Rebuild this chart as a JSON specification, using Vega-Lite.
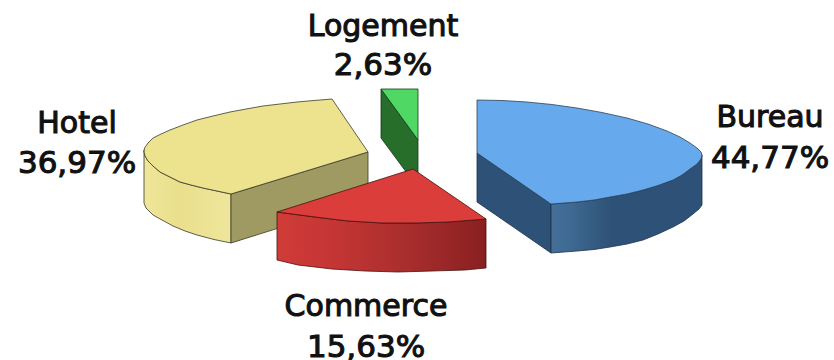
{
  "$schema": "https://vega.github.io/schema/vega-lite/v6.json",
  "width": 834,
  "height": 360,
  "padding": 0,
  "autosize": {"type": "none"},
  "background": "white",
  "config": {"view": {"stroke": null}},
  "datasets": {
    "faces": [
      {"face":"hotel-side","i":0,"x":144,"y":150},{"face":"hotel-side","i":1,"x":145,"y":156},{"face":"hotel-side","i":2,"x":148,"y":161},{"face":"hotel-side","i":3,"x":153,"y":166},{"face":"hotel-side","i":4,"x":160,"y":172},{"face":"hotel-side","i":5,"x":170,"y":177},{"face":"hotel-side","i":6,"x":180,"y":182},{"face":"hotel-side","i":7,"x":191,"y":185},{"face":"hotel-side","i":8,"x":203,"y":188},{"face":"hotel-side","i":9,"x":217,"y":191},{"face":"hotel-side","i":10,"x":231,"y":194},{"face":"hotel-side","i":11,"x":231,"y":243},{"face":"hotel-side","i":12,"x":214,"y":239.5},{"face":"hotel-side","i":13,"x":197,"y":235},{"face":"hotel-side","i":14,"x":185,"y":231},{"face":"hotel-side","i":15,"x":173,"y":226},{"face":"hotel-side","i":16,"x":162,"y":220},{"face":"hotel-side","i":17,"x":153,"y":215},{"face":"hotel-side","i":18,"x":146,"y":208},{"face":"hotel-side","i":19,"x":144,"y":203},{"face":"hotel-side","i":20,"x":144,"y":150},
      {"face":"hotel-cut","i":0,"x":231,"y":194},{"face":"hotel-cut","i":1,"x":368,"y":152},{"face":"hotel-cut","i":2,"x":368,"y":200},{"face":"hotel-cut","i":3,"x":231,"y":243},{"face":"hotel-cut","i":4,"x":231,"y":194},
      {"face":"hotel-top","i":0,"x":332,"y":99},{"face":"hotel-top","i":1,"x":314,"y":100.5},{"face":"hotel-top","i":2,"x":297,"y":102},{"face":"hotel-top","i":3,"x":280,"y":104},{"face":"hotel-top","i":4,"x":263,"y":106},{"face":"hotel-top","i":5,"x":246,"y":109},{"face":"hotel-top","i":6,"x":230,"y":112},{"face":"hotel-top","i":7,"x":213,"y":116},{"face":"hotel-top","i":8,"x":197,"y":120},{"face":"hotel-top","i":9,"x":183,"y":125},{"face":"hotel-top","i":10,"x":170,"y":130},{"face":"hotel-top","i":11,"x":161,"y":134},{"face":"hotel-top","i":12,"x":153,"y":138},{"face":"hotel-top","i":13,"x":148,"y":143},{"face":"hotel-top","i":14,"x":144.5,"y":148},{"face":"hotel-top","i":15,"x":144,"y":152},{"face":"hotel-top","i":16,"x":145,"y":156},{"face":"hotel-top","i":17,"x":148,"y":161},{"face":"hotel-top","i":18,"x":153,"y":166},{"face":"hotel-top","i":19,"x":160,"y":172},{"face":"hotel-top","i":20,"x":170,"y":177},{"face":"hotel-top","i":21,"x":180,"y":182},{"face":"hotel-top","i":22,"x":191,"y":185},{"face":"hotel-top","i":23,"x":203,"y":188},{"face":"hotel-top","i":24,"x":217,"y":191},{"face":"hotel-top","i":25,"x":231,"y":194},{"face":"hotel-top","i":26,"x":368,"y":152},{"face":"hotel-top","i":27,"x":332,"y":99},
      {"face":"logement-cut","i":0,"x":381,"y":89},{"face":"logement-cut","i":1,"x":418,"y":140},{"face":"logement-cut","i":2,"x":418,"y":188},{"face":"logement-cut","i":3,"x":381,"y":138},{"face":"logement-cut","i":4,"x":381,"y":89},
      {"face":"logement-top","i":0,"x":381,"y":89},{"face":"logement-top","i":1,"x":418,"y":89},{"face":"logement-top","i":2,"x":418,"y":140},{"face":"logement-top","i":3,"x":381,"y":89},
      {"face":"bureau-cut","i":0,"x":477,"y":153},{"face":"bureau-cut","i":1,"x":551,"y":204},{"face":"bureau-cut","i":2,"x":551,"y":253},{"face":"bureau-cut","i":3,"x":477,"y":202},{"face":"bureau-cut","i":4,"x":477,"y":153},
      {"face":"bureau-side","i":0,"x":551,"y":204},{"face":"bureau-side","i":1,"x":564,"y":203},{"face":"bureau-side","i":2,"x":577,"y":202},{"face":"bureau-side","i":3,"x":594,"y":200},{"face":"bureau-side","i":4,"x":610,"y":197},{"face":"bureau-side","i":5,"x":627,"y":194},{"face":"bureau-side","i":6,"x":643,"y":190},{"face":"bureau-side","i":7,"x":658,"y":185.5},{"face":"bureau-side","i":8,"x":673,"y":180},{"face":"bureau-side","i":9,"x":682,"y":175},{"face":"bureau-side","i":10,"x":690,"y":169},{"face":"bureau-side","i":11,"x":697,"y":164},{"face":"bureau-side","i":12,"x":701,"y":159},{"face":"bureau-side","i":13,"x":702,"y":155},{"face":"bureau-side","i":14,"x":702,"y":205},{"face":"bureau-side","i":15,"x":699,"y":209},{"face":"bureau-side","i":16,"x":693,"y":214},{"face":"bureau-side","i":17,"x":684,"y":221},{"face":"bureau-side","i":18,"x":673,"y":227},{"face":"bureau-side","i":19,"x":658,"y":234},{"face":"bureau-side","i":20,"x":643,"y":240},{"face":"bureau-side","i":21,"x":627,"y":244},{"face":"bureau-side","i":22,"x":610,"y":247},{"face":"bureau-side","i":23,"x":594,"y":249.5},{"face":"bureau-side","i":24,"x":577,"y":251},{"face":"bureau-side","i":25,"x":564,"y":252},{"face":"bureau-side","i":26,"x":551,"y":253},{"face":"bureau-side","i":27,"x":551,"y":204},
      {"face":"bureau-top","i":0,"x":477,"y":100},{"face":"bureau-top","i":1,"x":502,"y":100.5},{"face":"bureau-top","i":2,"x":527,"y":102},{"face":"bureau-top","i":3,"x":552,"y":104.5},{"face":"bureau-top","i":4,"x":577,"y":108},{"face":"bureau-top","i":5,"x":602,"y":112.5},{"face":"bureau-top","i":6,"x":627,"y":118},{"face":"bureau-top","i":7,"x":648,"y":124},{"face":"bureau-top","i":8,"x":667,"y":131},{"face":"bureau-top","i":9,"x":680,"y":137},{"face":"bureau-top","i":10,"x":690,"y":143},{"face":"bureau-top","i":11,"x":697,"y":148},{"face":"bureau-top","i":12,"x":701,"y":152},{"face":"bureau-top","i":13,"x":702,"y":155},{"face":"bureau-top","i":14,"x":701,"y":159},{"face":"bureau-top","i":15,"x":697,"y":164},{"face":"bureau-top","i":16,"x":690,"y":169},{"face":"bureau-top","i":17,"x":682,"y":175},{"face":"bureau-top","i":18,"x":673,"y":180},{"face":"bureau-top","i":19,"x":658,"y":185.5},{"face":"bureau-top","i":20,"x":643,"y":190},{"face":"bureau-top","i":21,"x":627,"y":194},{"face":"bureau-top","i":22,"x":610,"y":197},{"face":"bureau-top","i":23,"x":594,"y":200},{"face":"bureau-top","i":24,"x":577,"y":202},{"face":"bureau-top","i":25,"x":564,"y":203},{"face":"bureau-top","i":26,"x":551,"y":204},{"face":"bureau-top","i":27,"x":477,"y":153},{"face":"bureau-top","i":28,"x":477,"y":100},
      {"face":"commerce-side","i":0,"x":277,"y":212},{"face":"commerce-side","i":1,"x":296,"y":214.5},{"face":"commerce-side","i":2,"x":315,"y":217},{"face":"commerce-side","i":3,"x":348,"y":221},{"face":"commerce-side","i":4,"x":382,"y":223},{"face":"commerce-side","i":5,"x":415,"y":223},{"face":"commerce-side","i":6,"x":448,"y":222},{"face":"commerce-side","i":7,"x":486,"y":219},{"face":"commerce-side","i":8,"x":486,"y":268},{"face":"commerce-side","i":9,"x":465,"y":270},{"face":"commerce-side","i":10,"x":432,"y":271},{"face":"commerce-side","i":11,"x":398,"y":272},{"face":"commerce-side","i":12,"x":365,"y":271},{"face":"commerce-side","i":13,"x":332,"y":269},{"face":"commerce-side","i":14,"x":298,"y":265},{"face":"commerce-side","i":15,"x":277,"y":260},{"face":"commerce-side","i":16,"x":277,"y":212},
      {"face":"commerce-top","i":0,"x":413,"y":169},{"face":"commerce-top","i":1,"x":486,"y":219},{"face":"commerce-top","i":2,"x":448,"y":222},{"face":"commerce-top","i":3,"x":415,"y":223},{"face":"commerce-top","i":4,"x":382,"y":223},{"face":"commerce-top","i":5,"x":348,"y":221},{"face":"commerce-top","i":6,"x":315,"y":217},{"face":"commerce-top","i":7,"x":296,"y":214.5},{"face":"commerce-top","i":8,"x":277,"y":212},{"face":"commerce-top","i":9,"x":413,"y":169}
    ],
    "labels": [
      {"categorie":"Bureau","part":44.77,"x":770,"nameY":127,"partY":168,"partText":"44,77%"},
      {"categorie":"Hotel","part":36.97,"x":77,"nameY":133,"partY":173,"partText":"36,97%"},
      {"categorie":"Commerce","part":15.63,"x":366,"nameY":316,"partY":357,"partText":"15,63%"},
      {"categorie":"Logement","part":2.63,"x":383,"nameY":36,"partY":75,"partText":"2,63%"}
    ]
  },
  "data": {"name": "faces"},
  "encoding": {
    "x": {"field": "x", "type": "quantitative", "axis": null, "scale": {"domain": [0, 834], "nice": false, "zero": false}},
    "y": {"field": "y", "type": "quantitative", "axis": null, "scale": {"domain": [360, 0], "nice": false, "zero": false}},
    "order": {"field": "i", "type": "ordinal"}
  },
  "layer": [
    {"transform": [{"filter": "datum.face === 'hotel-side'"}],
     "mark": {"type": "line", "stroke": "#3a3a2a", "strokeWidth": 0.8, "fill": {"gradient": "linear", "x1": 0, "y1": 0, "x2": 1, "y2": 0, "stops": [{"offset": 0, "color": "#efe69a"}, {"offset": 0.4, "color": "#e9df8c"}, {"offset": 1, "color": "#efe69c"}]}}},
    {"transform": [{"filter": "datum.face === 'hotel-cut'"}],
     "mark": {"type": "line", "stroke": "#3a3a2a", "strokeWidth": 0.8, "fill": "#9f9a62"}},
    {"transform": [{"filter": "datum.face === 'hotel-top'"}],
     "mark": {"type": "line", "stroke": "#3a3a2a", "strokeWidth": 0.8, "fill": "#ede38f"}},
    {"transform": [{"filter": "datum.face === 'logement-cut'"}],
     "mark": {"type": "line", "stroke": "#123a16", "strokeWidth": 0.8, "fill": "#276e2b"}},
    {"transform": [{"filter": "datum.face === 'logement-top'"}],
     "mark": {"type": "line", "stroke": "#123a16", "strokeWidth": 0.8, "fill": "#4fd864"}},
    {"transform": [{"filter": "datum.face === 'bureau-cut'"}],
     "mark": {"type": "line", "stroke": "#1c3048", "strokeWidth": 0.8, "fill": "#2e5277"}},
    {"transform": [{"filter": "datum.face === 'bureau-side'"}],
     "mark": {"type": "line", "stroke": "#1c3048", "strokeWidth": 0.8, "fill": {"gradient": "linear", "x1": 0, "y1": 0, "x2": 1, "y2": 0, "stops": [{"offset": 0, "color": "#436f99"}, {"offset": 0.12, "color": "#3f6a93"}, {"offset": 0.3, "color": "#345a80"}, {"offset": 0.4, "color": "#2e5277"}, {"offset": 1, "color": "#2e5277"}]}}},
    {"transform": [{"filter": "datum.face === 'bureau-top'"}],
     "mark": {"type": "line", "stroke": "#2f4258", "strokeWidth": 0.8, "fill": "#66a9ec"}},
    {"transform": [{"filter": "datum.face === 'commerce-side'"}],
     "mark": {"type": "line", "stroke": "#4a1010", "strokeWidth": 0.8, "fill": {"gradient": "linear", "x1": 0, "y1": 0, "x2": 1, "y2": 0, "stops": [{"offset": 0, "color": "#d03c38"}, {"offset": 0.3, "color": "#c23534"}, {"offset": 0.6, "color": "#ab2e2e"}, {"offset": 1, "color": "#892020"}]}}},
    {"transform": [{"filter": "datum.face === 'commerce-top'"}],
     "mark": {"type": "line", "stroke": "#4a1010", "strokeWidth": 0.8, "fill": "#da3d3a"}},
    {"data": {"name": "labels"},
     "mark": {"type": "text", "font": "DejaVu Sans", "fontSize": 30, "align": "center", "baseline": "alphabetic", "fill": "#111111", "stroke": "#111111", "strokeWidth": 1.1},
     "encoding": {"x": {"field": "x", "type": "quantitative"}, "y": {"field": "nameY", "type": "quantitative"}, "text": {"field": "categorie"}, "order": null}},
    {"data": {"name": "labels"},
     "mark": {"type": "text", "font": "DejaVu Sans", "fontSize": 31, "align": "center", "baseline": "alphabetic", "fill": "#111111", "stroke": "#111111", "strokeWidth": 1.1},
     "encoding": {"x": {"field": "x", "type": "quantitative"}, "y": {"field": "partY", "type": "quantitative"}, "text": {"field": "partText"}, "order": null}}
  ]
}
